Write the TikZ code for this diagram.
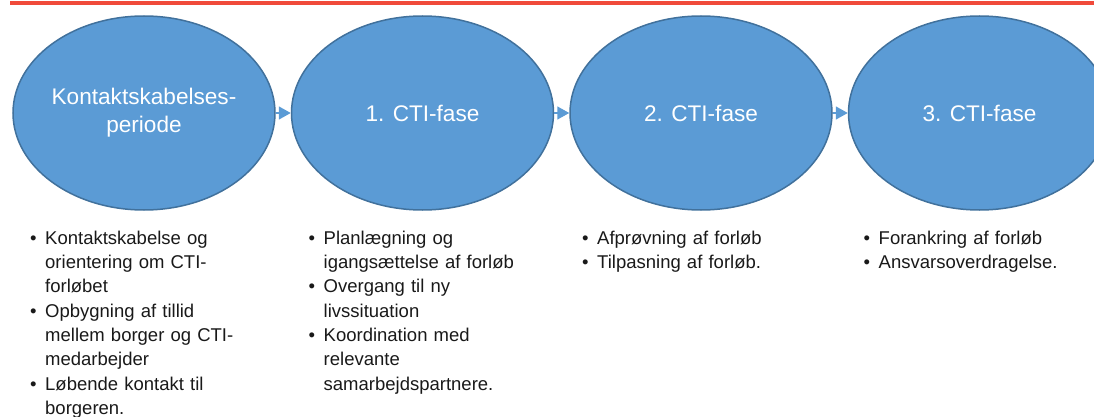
\documentclass[tikz,border=0pt]{standalone}
\usepackage{fontspec}
\setmainfont{Liberation Sans}
\usetikzlibrary{arrows.meta,positioning,shapes.geometric}
\definecolor{phaseblue}{HTML}{5B9BD5}
\definecolor{phaseedge}{HTML}{41719C}
\definecolor{topred}{HTML}{F04A3A}
\newenvironment{dotlist}{%
  \begin{list}{\textbullet}{\setlength{\leftmargin}{15pt}\setlength{\labelwidth}{6.5pt}%
    \setlength{\labelsep}{8.5pt}\setlength{\itemsep}{0pt}\setlength{\parsep}{0pt}%
    \setlength{\topsep}{0pt}\setlength{\partopsep}{0pt}}}
  {\end{list}}
\tikzset{
  phase/.style={
    ellipse, draw=phaseedge, line width=1.5pt, fill=phaseblue,
    minimum width=262pt, minimum height=194pt, inner sep=0pt,
    text=white, align=center, font=\fontsize{22.6}{28}\selectfont
  },
  tasks/.style={
    inner sep=0pt, text width=225pt, text=black!90,
    font=\fontsize{18.5}{24.3}\selectfont
  },
  link/.style={-{Triangle[length=12pt,width=13pt]}, line width=1.5pt, draw=phaseblue, fill=phaseblue},
}

\begin{document}
\begin{tikzpicture}[x=1pt,y=-1pt]
  \clip (0,0) rectangle (1094,417);

  % Red rule along the top
  \fill[topred] (10,1) rectangle (1094,5);

  % Phases
  \node[phase] (p1) at (144,113) {Kontaktskabelses-\\periode};
  \node[phase, right=15pt of p1] (p2) {1. CTI-fase};
  \node[phase, right=15pt of p2] (p3) {2. CTI-fase};
  \node[phase, right=15pt of p3] (p4) {3. CTI-fase};

  % Arrows between phases
  \draw[link] (p1) -- (p2);
  \draw[link] (p2) -- (p3);
  \draw[link] (p3) -- (p4);

  % Task lists below each phase
  \node[tasks, below=9pt of p1, anchor=north west, xshift=-114pt] (t1) {%
    \begin{dotlist}
      \item Kontaktskabelse og\\orientering om CTI-\\forløbet
      \item Opbygning af tillid\\mellem borger og CTI-\\medarbejder
      \item Løbende kontakt til\\borgeren.
    \end{dotlist}};
  \node[tasks, below=9pt of p2, anchor=north west, xshift=-114pt] (t2) {%
    \begin{dotlist}
      \item Planlægning og\\igangsættelse af forløb
      \item Overgang til ny\\livssituation
      \item Koordination med\\relevante\\samarbejdspartnere.
    \end{dotlist}};
  \node[tasks, below=9pt of p3, anchor=north west, xshift=-119pt] (t3) {%
    \begin{dotlist}
      \item Afprøvning af forløb
      \item Tilpasning af forløb.
    \end{dotlist}};
  \node[tasks, below=9pt of p4, anchor=north west, xshift=-116pt] (t4) {%
    \begin{dotlist}
      \item Forankring af forløb
      \item Ansvarsoverdragelse.
    \end{dotlist}};
\end{tikzpicture}
\end{document}
